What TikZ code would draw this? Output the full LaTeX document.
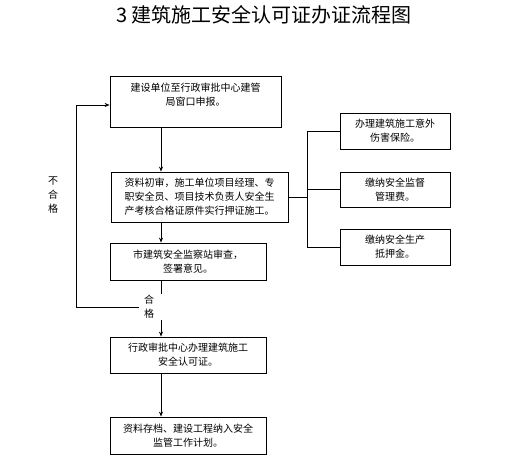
\documentclass[tikz,border=0pt]{standalone}
\usepackage{fontspec}
\newfontfamily\cjk{Noto Sans CJK SC}
\usetikzlibrary{arrows.meta}

\tikzset{
    stepbox/.style={draw, line width=0.8pt, align=center, inner sep=1pt,
        font=\cjk\fontsize{10}{14}\selectfont},
    note/.style={align=center, inner sep=1pt, font=\cjk\fontsize{10}{14}\selectfont},
    arr/.style={-{Stealth[length=5pt,width=4pt]}, line width=0.8pt},
    link/.style={line width=0.8pt}
}

\begin{document}
\begin{tikzpicture}[x=1pt, y=-1pt]
    \useasboundingbox (0,0) rectangle (505,473);

    % Title
    \node[font=\cjk\fontsize{20}{24}\selectfont] (title) at (264,15) {3 建筑施工安全认可证办证流程图};

    % Helper coordinates
    \coordinate (sp) at (161,0);
    \coordinate (loopx) at (76,0);
    \coordinate (br) at (307,0);

    % Main steps
    \node[stepbox, minimum width=171pt, minimum height=51pt, text depth=15pt] (apply) at (195.5,101.5)
        {建设单位至行政审批中心建管\\局窗口申报。};
    \node[stepbox, minimum width=177pt, minimum height=50pt] (check) at (199.5,197)
        {资料初审，施工单位项目经理、专\\职安全员、项目技术负责人安全生\\产考核合格证原件实行押证施工。};
    \node[stepbox, minimum width=156pt, minimum height=37pt] (review) at (188,261.5)
        {市建筑安全监察站审查，\\签署意见。};
    \node[stepbox, minimum width=156pt, minimum height=36pt] (permit) at (188,355)
        {行政审批中心办理建筑施工\\安全认可证。};
    \node[stepbox, minimum width=156pt, minimum height=37pt] (archive) at (188,435.5)
        {资料存档、建设工程纳入安全\\监管工作计划。};

    % Side steps
    \node[stepbox, minimum width=110pt, minimum height=36pt] (insure) at (395,131)
        {办理建筑施工意外\\伤害保险。};
    \node[stepbox, minimum width=110pt, minimum height=35pt] (fee) at (395,189.5)
        {缴纳安全监督\\管理费。};
    \node[stepbox, minimum width=110pt, minimum height=36pt] (deposit) at (395,247)
        {缴纳安全生产\\抵押金。};

    % Labels
    \node[note] (ok) at (149,307) {合\\格};
    \node[note] (notok) at (53,195) {不\\合\\格};

    % Main flow
    \draw[arr] (apply.south -| sp) -- (check.north -| sp);
    \draw[arr] (check.south -| sp) -- (review.north -| sp);
    \draw[link] (review.south -| sp) -- (ok.north -| sp);
    \draw[arr] (ok.south -| sp) -- (permit.north -| sp);
    \draw[arr] (permit.south -| sp) -- (archive.north -| sp);

    % Return loop
    \draw[arr] ([xshift=-4pt]ok.west) -| ([yshift=-3.5pt]apply.west -| loopx) -- ([yshift=-3.5pt]apply.west);

    % Branches
    \draw[link] (check.east) -- (check.east -| br);
    \draw[link] (insure.west -| br) -- (deposit.west -| br);
    \foreach \b in {insure, fee, deposit}
        \draw[link] (\b.west -| br) -- (\b.west);
\end{tikzpicture}
\end{document}
